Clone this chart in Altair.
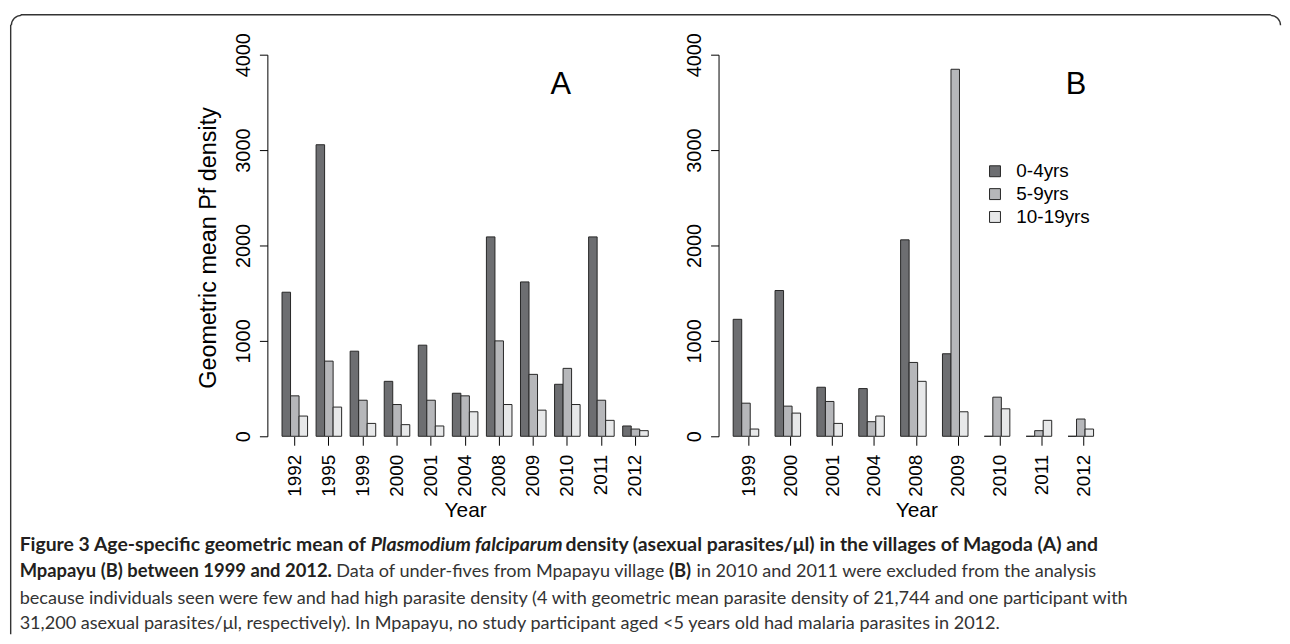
import altair as alt
import pandas as pd

# ---------------- data ----------------
groups = ["0-4yrs", "5-9yrs", "10-19yrs"]
colors = ["#6d6e71", "#b6b7ba", "#e7e8e9"]

years_a = ["1992", "1995", "1999", "2000", "2001", "2004", "2008", "2009", "2010", "2011", "2012"]
a_0_4 = [1510, 3056, 892, 576, 955, 451, 2090, 1618, 545, 2090, 108]
a_5_9 = [424, 788, 378, 333, 378, 424, 1000, 649, 712, 378, 76]
a_10_19 = [212, 306, 135, 122, 108, 257, 333, 274, 333, 167, 59]

years_b = ["1999", "2000", "2001", "2004", "2008", "2009", "2010", "2011", "2012"]
b_0_4 = [1226, 1528, 514, 500, 2059, 865, 0, 0, 0]
b_5_9 = [347, 316, 365, 153, 774, 3847, 410, 59, 181]
b_10_19 = [76, 243, 135, 212, 576, 257, 288, 167, 76]

y_ticks = [0, 1000, 2000, 3000, 4000]

cap_l1 = ["Figure 3 Age-specific geometric mean of", "Plasmodium falciparum",
          "density (asexual parasites/\u03bcl) in the villages of Magoda (A) and"]
cap_l2 = ["Mpapayu (B) between 1999 and 2012.", "Data of under-fives from Mpapayu village",
          "(B)", "in 2010 and 2011 were excluded from the analysis"]
cap_l3 = ("because individuals seen were few and had high parasite density (4 with geometric "
          "mean parasite density of 21,744 and one participant with")
cap_l4 = ("31,200 asexual parasites/\u03bcl, respectively). In Mpapayu, no study participant aged "
          "<5 years old had malaria parasites in 2012.")


def long_table(years, series):
    rows = []
    for g, vals in zip(groups, series):
        for yr, v in zip(years, vals):
            rows.append({"year": yr, "group": g, "value": v})
    return pd.DataFrame(rows)


df_a = long_table(years_a, [a_0_4, a_5_9, a_10_19])
df_b = long_table(years_b, [b_0_4, b_5_9, b_10_19])

# ---------------- layout (page pixels) ----------------
PW, PH = 398, 384          # plot area of each panel
AX0, AY0 = 268.3, 52.7     # page position of panel A plot origin
BX0 = 722.3                # page position of panel B plot origin
CHART_FONT = "Liberation Sans"
CAP_FONT = "Lato"
anchor = pd.DataFrame({"k": [0]})


def text_at(txt, px, py, size, ox, weight="normal", style="normal", font=CAP_FONT,
            align="left", color="#231f20"):
    return alt.Chart(anchor).mark_text(
        text=txt, align=align, baseline="alphabetic", fontSize=size, fontWeight=weight,
        fontStyle=style, font=font, color=color
    ).encode(x=alt.value(px - ox), y=alt.value(py - AY0))


def hrule(px1, px2, py, ox):
    return alt.Chart(anchor).mark_rule(color="#333333", strokeWidth=1.4).encode(
        x=alt.value(px1 - ox), x2=alt.value(px2 - ox), y=alt.value(py - AY0))


def vrule(px, py1, py2, ox):
    return alt.Chart(anchor).mark_rule(color="#333333", strokeWidth=1.4).encode(
        x=alt.value(px - ox), y=alt.value(py1 - AY0), y2=alt.value(py2 - AY0))


def corner(cx, cy, t1, t2, ox):
    return alt.Chart(anchor).mark_arc(
        x=cx - ox, y=cy - AY0, radius=10.7, radius2=9.3, theta=t1, theta2=t2, color="#333333"
    ).encode(opacity=alt.value(1))


def flow(segments, x0, py, ox):
    """segments: (text, size, weight, style, color, width_at_18px); laid out left to right."""
    out = []
    x = x0
    for txt, size, weight, style, color, w18 in segments:
        out.append(text_at(txt, x, py, size, ox, weight=weight, style=style, color=color))
        x += w18 * size / 18.0 + 0.28 * size
    return out


def panel(df, years, pad_outer, ytitle, legend, extra):
    y_axis = alt.Axis(
        values=y_ticks, format="d", grid=False, tickSize=8, labelAngle=270, labelAlign="center",
        labelBaseline="alphabetic", labelPadding=10, labelFontSize=20, labelFont=CHART_FONT,
        labelColor="black", tickColor="black", domainColor="black", labelFlush=False,
        labelOverlap=False, title=ytitle, titleFontSize=23.5, titleFontWeight="normal",
        titleFont=CHART_FONT, titleColor="black", titleAngle=270, titleBaseline="alphabetic",
        titleAlign="center", titleX=-52, titleY=194,
    )
    x_axis = alt.Axis(
        labelAngle=270, labelAlign="right", labelBaseline="middle", labelPadding=9, tickSize=9,
        domain=False, labelFontSize=19, labelFont=CHART_FONT, labelColor="black",
        tickColor="black", title="Year", titleFontSize=21, titleFontWeight="normal",
        titleFont=CHART_FONT, titleColor="black", titleY=81, titleBaseline="alphabetic",
        labelOverlap=False,
    )
    bars = alt.Chart(df).mark_bar(stroke="#262626", strokeWidth=1, opacity=1).encode(
        x=alt.X("year:N", sort=years, axis=x_axis,
                scale=alt.Scale(paddingInner=0.25, paddingOuter=pad_outer)),
        xOffset=alt.XOffset("group:N", sort=groups,
                            scale=alt.Scale(domain=groups, paddingInner=0, paddingOuter=0)),
        y=alt.Y("value:Q", axis=y_axis, scale=alt.Scale(domain=[0, 4000], nice=False)),
        color=alt.Color("group:N", sort=groups,
                        scale=alt.Scale(domain=groups, range=colors), legend=legend),
    )
    return alt.layer(bars, *extra).properties(width=PW, height=PH)


BOLD_C = "#231f20"
REG_C = "#333333"
line1 = flow([
    (cap_l1[0], 19.5, "bold", "normal", BOLD_C, 321),
    (cap_l1[1], 19.5, "bold", "italic", BOLD_C, 176),
    (cap_l1[2], 19.5, "bold", "normal", BOLD_C, 488),
], 19, 552, AX0)
line2 = flow([
    (cap_l2[0], 18.5, "bold", "normal", BOLD_C, 305),
    (cap_l2[1], 18.2, "normal", "normal", REG_C, 326),
    (cap_l2[2], 18.5, "bold", "normal", BOLD_C, 22),
    (cap_l2[3], 18.2, "normal", "normal", REG_C, 390),
], 19, 578, AX0)

# decorations and caption live in panel A's coordinate space
deco_a = [
    hrule(20, 1278, 12.5, AX0),
    vrule(10, 22.5, 636, AX0),
    corner(20.7, 23.2, 4.7124, 6.2832, AX0),
    corner(1277.8, 23.2, 0.0, 1.5708, AX0),
    text_at("A", 563.5, 92, 31, AX0, font=CHART_FONT, align="center", color="black"),
    *line1,
    *line2,
    text_at(cap_l3, 19, 605, 18.2, AX0, color=REG_C),
    text_at(cap_l4, 19, 631, 18.2, AX0, color=REG_C),
]

deco_b = [
    text_at("B", 1082, 92, 31, BX0, font=CHART_FONT, align="center", color="black"),
]

legend_b = alt.Legend(
    orient="none", legendX=991 - BX0, legendY=160.5 - AY0, title=None, symbolType="square",
    symbolSize=121, symbolStrokeColor="#262626", symbolStrokeWidth=1, symbolOpacity=1,
    labelFontSize=19, labelFont=CHART_FONT, labelColor="black", labelOffset=12, rowPadding=3,
    padding=0,
)

panel_a = panel(df_a, years_a, 0.43, "Geometric mean Pf density", None, deco_a)
panel_b = panel(df_b, years_b, 0.35, None, legend_b, deco_b)

chart = alt.HConcatChart(hconcat=[panel_a, panel_b], spacing=56, bounds="flush").resolve_legend(
    color="independent"
).properties(
    padding={"left": 2, "top": 4, "right": 0, "bottom": 0}, background="white"
).configure_view(stroke=None)

chart.save("out.html", embed_options={"renderer": "svg", "actions": False})
